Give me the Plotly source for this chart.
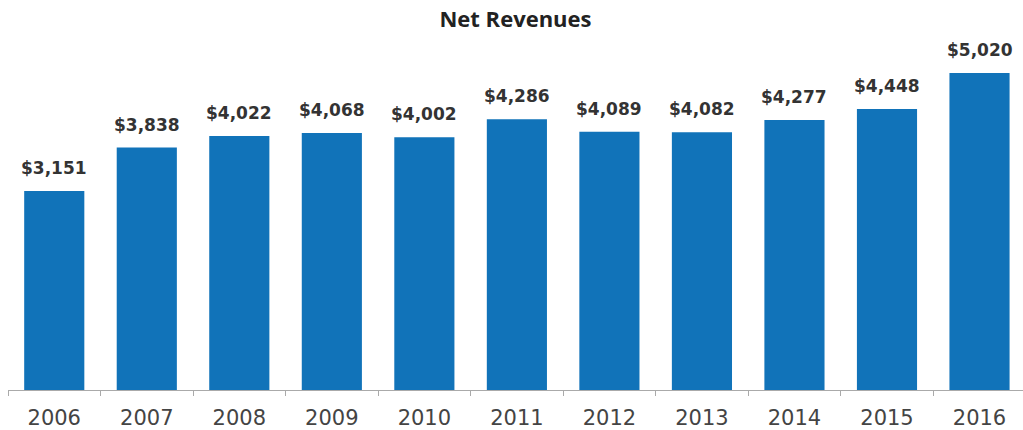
import plotly.graph_objects as go

years = ["2006", "2007", "2008", "2009", "2010", "2011", "2012", "2013", "2014", "2015", "2016"]
revenues = [3151, 3838, 4022, 4068, 4002, 4286, 4089, 4082, 4277, 4448, 5020]
labels = ["$" + format(v, ",") for v in revenues]

fig = go.Figure()
fig.add_trace(go.Bar(
    x=years, y=revenues,
    marker=dict(color="#1173b9", line=dict(width=0)),
    hoverinfo="skip",
))

for i, (v, lab) in enumerate(zip(revenues, labels)):
    fig.add_annotation(
        x=i, y=v, xref="x", yref="y", text="<b>" + lab + "</b>", showarrow=False,
        yanchor="bottom", yshift=11,
        font=dict(family="DejaVu Sans", size=17, color="#333333"),
    )

fig.update_layout(
    width=1023, height=430,
    margin=dict(l=8, r=0, t=40, b=40),
    paper_bgcolor="white", plot_bgcolor="white",
    bargap=0.35,
    showlegend=False,
    title=dict(
        text="<b>Net Revenues</b>", x=0.5, xanchor="center",
        xref="paper", yref="container", y=1 - 19 / 430, yanchor="middle",
        font=dict(family="Open Sans", size=22, color="#222222"),
    ),
    xaxis=dict(
        type="category",
        range=[-0.5, 10.47],
        showline=True, linecolor="#aaaaaa", linewidth=1,
        ticks="outside", tickson="boundaries", ticklen=5, tickcolor="#aaaaaa",
        tickfont=dict(family="DejaVu Sans", size=21, color="#444444"),
        ticklabelstandoff=9,
        showgrid=False, zeroline=False, fixedrange=True,
    ),
    yaxis=dict(
        range=[0, 5542], showticklabels=False, ticks="", showline=False,
        showgrid=False, zeroline=False, fixedrange=True,
    ),
)

fig.write_html(
    "out.html",
    config={"displayModeBar": False},
    post_script="document.body.style.margin='0';document.body.style.padding='0';",
)
